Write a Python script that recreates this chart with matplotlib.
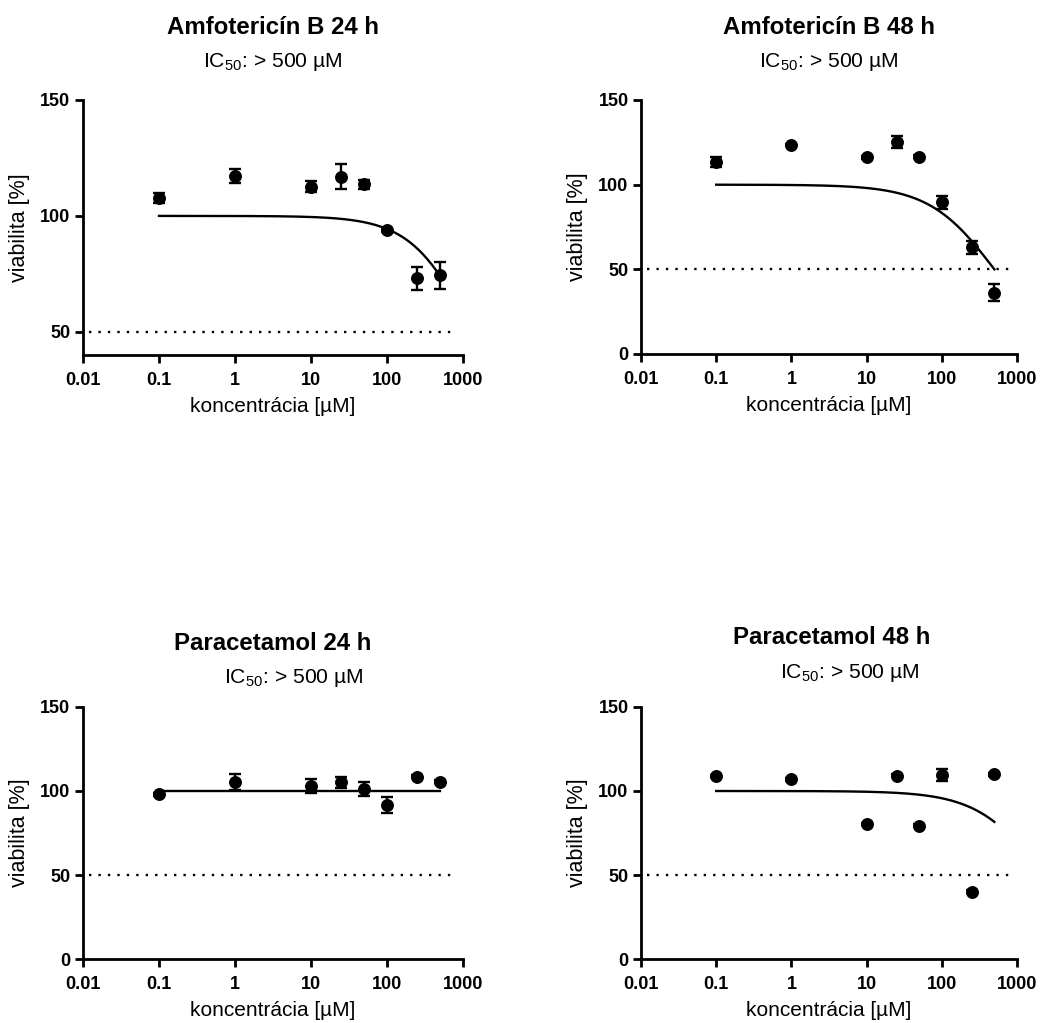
import numpy as np
import matplotlib
matplotlib.use("Agg")
import matplotlib.pyplot as plt

plt.rcParams['font.family'] = ['Liberation Sans', 'DejaVu Sans']
plt.rcParams['mathtext.fontset'] = 'custom'
plt.rcParams['mathtext.rm'] = 'Liberation Sans'

# koncentrácie [µM]
conc = [0.1, 1, 10, 25, 50, 100, 250, 500]

# viabilita [%] a SEM
amfo24 = [107.6, 117.2, 112.6, 117.0, 113.7, 94.0, 73.1, 74.3]
amfo24_err = [2.2, 3.0, 2.4, 5.5, 2.0, 0.8, 4.9, 5.7]
amfo48 = [113.2, 123.4, 116.2, 125.4, 116.6, 89.6, 63.0, 36.2]
amfo48_err = [3.0, 0.8, 0.8, 3.5, 0.8, 4.0, 4.0, 5.0]
para24 = [98.0, 105.2, 103.0, 105.2, 101.2, 91.7, 108.5, 105.5]
para24_err = [0.8, 4.7, 4.2, 3.2, 4.0, 5.0, 0.8, 0.8]
para48 = [108.9, 107.0, 80.4, 109.1, 79.4, 109.5, 40.1, 109.9]
para48_err = [0.8, 0.8, 0.8, 0.8, 0.8, 3.7, 0.8, 0.8]

# parametre fitu (IC50 [µM], Hillov koeficient)
fit_ic50 = [1295, 500, 1e8, 2222]
fit_hill = [1.1, 1.0, 1.0, 1.0]

titles = ["Amfotericín B 24 h", "Amfotericín B 48 h", "Paracetamol 24 h", "Paracetamol 48 h"]
subtitle = r"IC$_{\mathrm{50}}$: > 500 µM"
ylims = [(40, 150), (0, 150), (0, 150), (0, 150)]
yticks = [[50, 100, 150], [0, 50, 100, 150], [0, 50, 100, 150], [0, 50, 100, 150]]
xticks = [0.01, 0.1, 1, 10, 100, 1000]
xticklabels = ["0.01", "0.1", "1", "10", "100", "1000"]

W, H = 1048, 1023
fig = plt.figure(figsize=(W / 100, H / 100), dpi=100)

# (left, top, right, bottom) v pixeloch
boxes = [(83, 100, 463, 355), (641, 100, 1017, 354),
         (83, 707, 463, 959), (641, 707, 1017, 959)]
title_pos = [(273, 27), (829, 27), (273, 643), (832, 637)]
sub_pos = [(273, 62), (829, 62), (294, 678), (850, 673)]

series = [(amfo24, amfo24_err), (amfo48, amfo48_err),
          (para24, para24_err), (para48, para48_err)]

xfit = np.logspace(np.log10(conc[0]), np.log10(conc[-1]), 200)

for i, (vals, errs) in enumerate(series):
    l, t, r, b = boxes[i]
    ax = fig.add_axes([l / W, 1 - b / H, (r - l) / W, (b - t) / H])
    ax.set_xscale("log")
    ax.set_xlim(0.01, 1000)
    ax.set_ylim(*ylims[i])

    ax.axhline(50, xmin=0.015, xmax=0.985, color="black", lw=1.7,
               linestyle=(0, (1, 3)))

    yfit = 100 / (1 + (xfit / fit_ic50[i]) ** fit_hill[i])
    ax.plot(xfit, yfit, color="black", lw=1.7)

    ax.errorbar(conc, vals, yerr=errs, fmt="o", color="black", ms=8.3,
                elinewidth=1.7, capsize=4, capthick=1.7)

    ax.set_xticks(xticks, labels=xticklabels, fontweight="bold", fontsize=13)
    ax.set_yticks(yticks[i], labels=[str(v) for v in yticks[i]],
                  fontweight="bold", fontsize=13)
    ax.minorticks_off()
    ax.tick_params(direction="out", length=6, width=2)
    ax.tick_params(axis="x", pad=6)
    ax.tick_params(axis="y", pad=3)
    for s in ["top", "right"]:
        ax.spines[s].set_visible(False)
    for s in ["left", "bottom"]:
        ax.spines[s].set_linewidth(2)

    ax.set_ylabel("viabilita [%]", fontsize=15.5)
    ax.yaxis.set_label_coords(-0.14, 0.5)
    ax.set_xlabel("koncentrácia [µM]", fontsize=15, labelpad=6)

    tx, ty = title_pos[i]
    fig.text(tx / W, 1 - ty / H, titles[i], fontsize=17.3, fontweight="bold",
             ha="center", va="center")
    sx, sy = sub_pos[i]
    fig.text(sx / W, 1 - sy / H, subtitle, fontsize=15.2, ha="center", va="center")

fig.savefig("out.png", dpi=100)
